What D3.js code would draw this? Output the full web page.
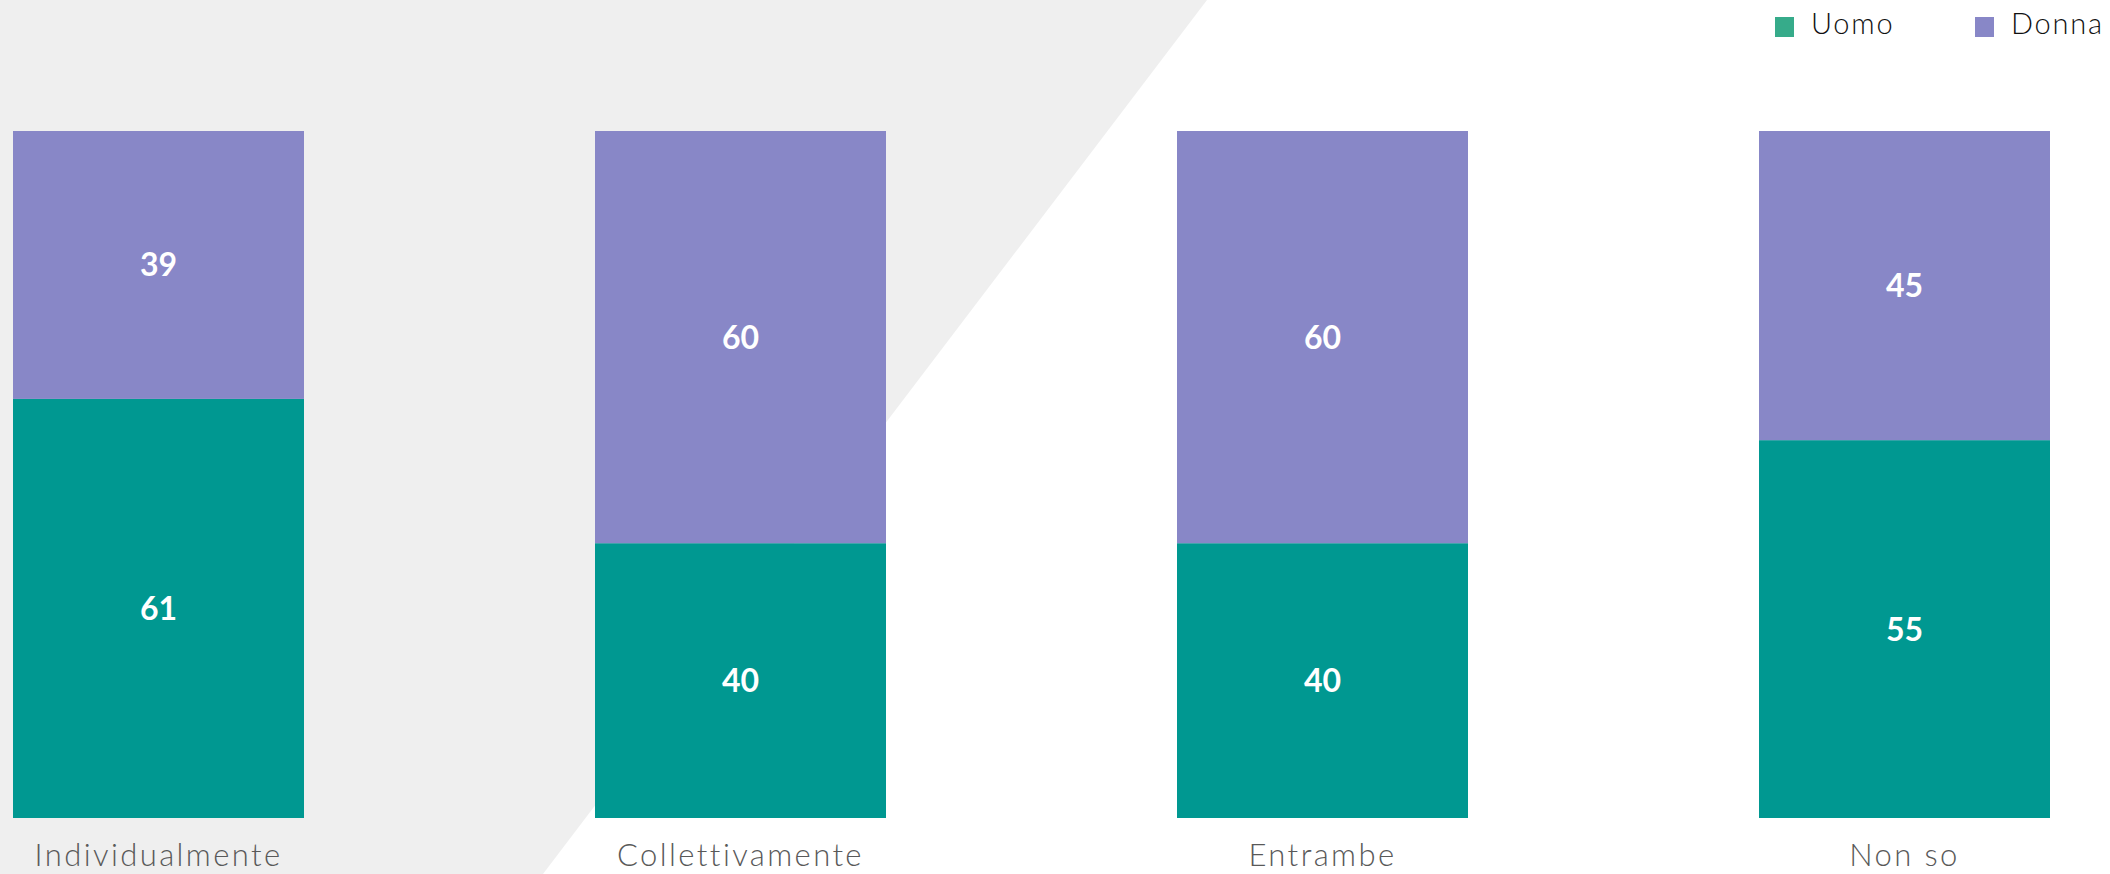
<!DOCTYPE html>
<html>
<head>
<meta charset="utf-8">
<script src="https://cdn.jsdelivr.net/npm/d3@7"></script>
<style>
  html, body { margin: 0; padding: 0; background: #ffffff; }
  svg { display: block; }
</style>
</head>
<body>
<svg id="chart" width="2110" height="874"></svg>
<script>
const categories = ["Individualmente", "Collettivamente", "Entrambe", "Non so"];
const seriesNames = ["Uomo", "Donna"];
const uomo = [61, 40, 40, 55];
const donna = [39, 60, 60, 45];

const W = 2110, H = 874;
const svg = d3.select("#chart");

// background decoration
svg.append("rect").attr("width", W).attr("height", H).attr("fill", "#ffffff");
svg.append("path")
  .attr("d", "M0,0 L1207,0 L543,874 L0,874 Z")
  .attr("fill", "#efefef");

const x = d3.scaleBand().domain(categories).range([13, 2050]).paddingInner(0.5).paddingOuter(0);
const y = d3.scaleLinear().domain([0, 100]).range([818, 131]);

const rows = categories.map((c, i) => ({ cat: c, Uomo: uomo[i], Donna: donna[i] }));
const stack = d3.stack().keys(seriesNames)(rows);
const barColor = { Uomo: "#009891", Donna: "#8887c7" };
const legendColor = { Uomo: "#36ab8a", Donna: "#8887c7" };

const layers = svg.append("g").selectAll("g").data(stack).join("g")
  .attr("fill", d => barColor[d.key]);

layers.selectAll("rect").data(d => d).join("rect")
  .attr("x", d => x(d.data.cat))
  .attr("width", x.bandwidth())
  .attr("y", d => y(d[1]))
  .attr("height", d => y(d[0]) - y(d[1]));

layers.selectAll("text").data(d => d).join("text")
  .attr("x", d => x(d.data.cat) + x.bandwidth() / 2)
  .attr("y", d => (y(d[0]) + y(d[1])) / 2)
  .attr("dy", "0.36em")
  .attr("text-anchor", "middle")
  .attr("fill", "#ffffff")
  .attr("font-family", "Lato, 'Open Sans', sans-serif")
  .attr("font-weight", 700)
  .attr("font-size", 32)
  .text(d => d[1] - d[0]);

// category axis
const xAxis = svg.append("g")
  .attr("transform", "translate(0,866)")
  .call(d3.axisBottom(x).tickSize(0).tickPadding(0));
xAxis.select(".domain").remove();
xAxis.selectAll("text")
  .attr("dy", 0)
  .attr("fill", "#595959")
  .attr("font-family", "Lato, 'Open Sans', sans-serif")
  .attr("font-weight", 300)
  .attr("font-size", 31)
  .attr("letter-spacing", "2.4px");

// legend
const legendX = [1775, 1975];
const legend = svg.append("g").selectAll("g").data(seriesNames).join("g")
  .attr("transform", (d, i) => `translate(${legendX[i]},17)`);
legend.append("rect")
  .attr("width", 19).attr("height", 20)
  .attr("fill", d => legendColor[d]);
legend.append("text")
  .attr("x", 36).attr("y", 17)
  .attr("fill", "#111111")
  .attr("font-family", "Lato, 'Open Sans', sans-serif")
  .attr("font-weight", 300)
  .attr("font-size", 29)
  .attr("letter-spacing", "1.8px")
  .text(d => d);
</script>
</body>
</html>
